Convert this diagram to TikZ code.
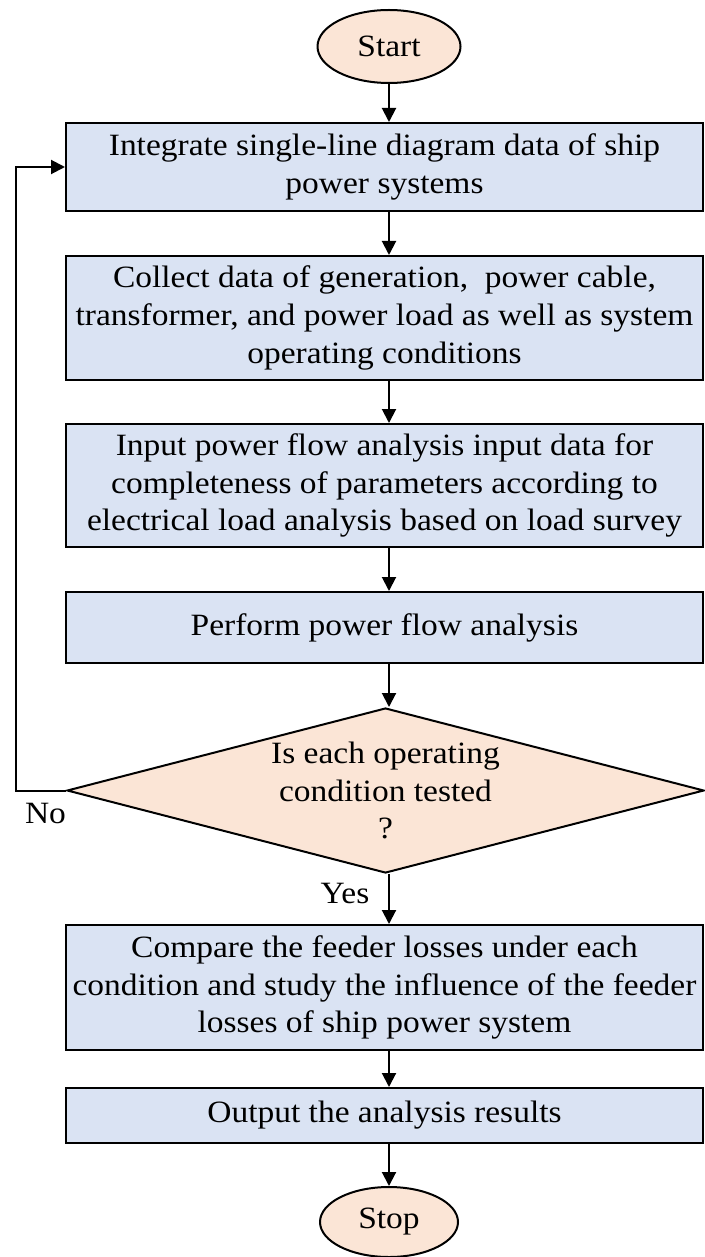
\documentclass[tikz,border=0pt]{standalone}
\usepackage{fontspec}
\setmainfont[FakeStretch=1.08]{Liberation Serif}
\usetikzlibrary{shapes.geometric,arrows.meta}
\definecolor{boxblue}{HTML}{DAE3F3}
\definecolor{peach}{HTML}{FBE5D6}
\begin{document}
\begin{tikzpicture}[x=1pt,y=-1pt,
  every node/.style={font=\fontsize{31}{37.7}\selectfont, align=center, inner sep=0pt},
  procbox/.style={draw, line width=2pt, fill=boxblue, minimum width=637pt},
  term/.style={draw, line width=2pt, fill=peach, ellipse},
  decis/.style={draw, line width=2pt, fill=peach, diamond},
  flow/.style={line width=2pt, -{Triangle[length=14pt,width=14pt]}},
  plain/.style={font=\fontsize{31}{37.7}\selectfont}
]
\useasboundingbox (0,0) rectangle (704,1257);
\node[term, minimum width=143pt, minimum height=73pt] (start) at (389,46.5) {Start};
\node[procbox, minimum height=88pt] (b1) at (384.5,167) {Integrate single-line diagram data of ship\\power systems};
\node[procbox, minimum height=124pt] (b2) at (384.5,318) {Collect data of generation,\ \ power cable,\\transformer, and power load as well as system\\operating conditions};
\node[procbox, minimum height=123pt] (b3) at (384.5,485.5) {Input power flow analysis input data for\\completeness of parameters according to\\electrical load analysis based on load survey};
\node[procbox, minimum height=71pt] (b4) at (384.5,627.5) {Perform power flow analysis};
\node[decis, minimum width=637pt, minimum height=165pt, aspect=3.86] (dec) at (385.5,790.5) {Is each operating\\condition tested\\?};
\node[procbox, minimum height=125pt] (b5) at (384.5,987.5) {Compare the feeder losses under each\\condition and study the influence of the feeder\\losses of ship power system};
\node[procbox, minimum height=55pt] (b6) at (384.5,1115.5) {Output the analysis results};
\node[term, minimum width=138pt, minimum height=70pt] (stop) at (389,1222) {Stop};
\node[plain] (no) at (45.5,813) {No};
\node[plain] (yes) at (345,893) {Yes};
\coordinate (fb) at (16,790.5);

\draw[flow] (start.south) -- (start.south |- b1.north);
\draw[flow] (389,0 |- b1.south) -- (389,0 |- b2.north);
\draw[flow] (389,0 |- b2.south) -- (389,0 |- b3.north);
\draw[flow] (389,0 |- b3.south) -- (389,0 |- b4.north);
\draw[flow] (389,0 |- b4.south) -- (389,0 |- dec.north);
\draw[flow] (389,0 |- dec.south) -- (389,0 |- b5.north);
\draw[flow] (389,0 |- b5.south) -- (389,0 |- b6.north);
\draw[flow] (389,0 |- b6.south) -- (stop.north);
\draw[flow] (dec.west) -- (fb) |- (b1.west);
\end{tikzpicture}
\end{document}
